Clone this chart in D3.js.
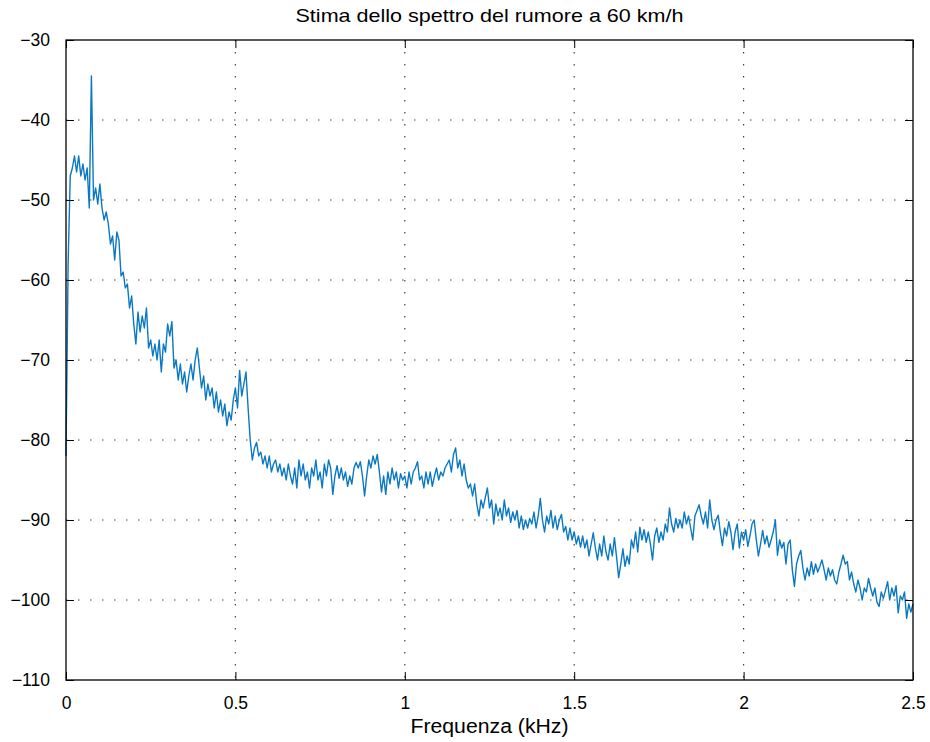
<!DOCTYPE html>
<html>
<head>
<meta charset="utf-8">
<script src="https://cdn.jsdelivr.net/npm/d3@7"></script>
<style>
  body { margin: 0; background: #fff; }
  svg text { font-family: "Liberation Sans", Arial, sans-serif; fill: #000; }
</style>
</head>
<body>
<svg id="chart" width="930" height="742"></svg>
<script>
'use strict';

const title = 'Stima dello spettro del rumore a 60 km/h';
const xLabel = 'Frequenza (kHz)';
const xTicks = [0, 0.5, 1, 1.5, 2, 2.5];
const yTicks = [-110, -100, -90, -80, -70, -60, -50, -40, -30];

// spectrum bins: first bin frequency and bin width, kHz
const binStart = 0;
const binWidth = 0.00625;

// estimated power (dB), one value per bin
const powerDb = [
  -82, -58, -47, -46, -44.5, -46.5, -44.5, -47, -45.5, -47.5,
  -46, -51, -34.5, -50, -48.5, -50.5, -48, -51, -52.5, -51.5,
  -53, -55.5, -54.5, -57.5, -54, -55, -59.5, -59, -61, -60.5,
  -63.5, -62, -65.5, -68, -64, -66.5, -64.5, -66, -63.5, -68.5,
  -67.5, -69.5, -68, -70, -67.5, -71.5, -68, -69, -65.5, -67,
  -65.2, -71, -70, -72.5, -70.5, -73, -71.5, -74, -72, -70.5,
  -72.5, -70, -68.5, -71, -73.5, -72, -75, -73, -74.5, -73.5,
  -76, -74, -76.5, -75, -77, -75.5, -78.2, -76.5, -77.5, -75,
  -73.5, -76, -71.3, -74.5, -73, -71.5, -76, -80, -82.5, -81,
  -80.3, -82, -81.5, -83, -82, -83.5, -82, -84, -83, -82.5,
  -84, -83, -84.5, -83.5, -85, -83, -84.5, -85.5, -83.5, -86,
  -82.5, -84.5, -83, -85, -84, -86, -83.5, -84.5, -82.5, -85,
  -84, -86, -83, -84.5, -82.5, -83.5, -86.8, -84.5, -83.2, -84.8,
  -83.5, -85, -84, -85.8, -84.5, -85.5, -83.5, -82.8, -83.5, -82.7,
  -84.5, -87, -84.5, -82.5, -83.5, -82, -83, -81.8, -84, -86.5,
  -84.5, -86.8, -84, -85.5, -83.5, -85, -84, -86, -84.2, -85,
  -84.5, -86, -84, -85.5, -84, -83.5, -82.7, -85, -84.5, -86,
  -84, -85.5, -84, -85.8, -84.5, -83.5, -85, -84, -84.5, -83.5,
  -83, -82.5, -84, -81.8, -81, -83.5, -82.5, -84.5, -83, -85,
  -86, -85.5, -87, -85.5, -88, -89.5, -87.5, -88.5, -87.2, -86,
  -88.5, -87.5, -90.5, -88, -89.5, -88.5, -90, -87.5, -89.5, -88.5,
  -90.3, -89, -90, -88.8, -91, -89.5, -91.2, -90, -91, -89.8,
  -90.5, -89, -91, -89.5, -87.3, -90, -91.5, -89.5, -90.5, -88.8,
  -91, -89.5, -91.2, -90, -89.3, -91.5, -90.8, -92.5, -91, -92.5,
  -91.5, -93, -92, -93.4, -92, -93.5, -92.5, -94.5, -93, -91.6,
  -93.5, -95, -93, -94.5, -92, -94, -95, -93, -94.5, -92.2,
  -94.6, -97.2, -95.5, -93.6, -95.8, -94.5, -95.5, -92.5, -93.5, -91.5,
  -94, -90.9, -92.5, -91.2, -92.8, -91.5, -93, -95, -92, -91,
  -92.8, -91.5, -92.5, -90.5, -91.5, -88.5, -90.5, -91.5, -89.8, -91,
  -90, -91, -89, -90.5, -89.5, -91, -92.5, -89.5, -88.8, -88.1,
  -89.5, -90.5, -89, -91, -87.5, -90, -91.2, -90, -89.4, -91.5,
  -93.2, -91, -92, -90.2, -91.5, -93.7, -91.5, -90.5, -93.5, -91.5,
  -92.5, -91.2, -93.3, -92, -90.5, -90, -92.5, -94.5, -93, -91.3,
  -93, -92, -93.4, -92.5, -91.5, -90, -94.4, -92.5, -93.5, -92.8,
  -95.5, -93, -92.5, -96.2, -98.3, -95.5, -94.5, -93.8, -96, -97.5,
  -96, -97, -95.2, -96.8, -95.5, -96.5, -95.8, -95, -96.2, -97.5,
  -96, -97, -96.2, -97.5, -98, -96.5, -95.5, -94.4, -95.5, -95.2,
  -97.5, -96.5, -98, -99, -97.5, -98.5, -100, -98.5, -99, -97.3,
  -98.5, -99.5, -98.5, -100.3, -100.8, -99, -99.8, -98.8, -97.7, -100,
  -98.5, -99.5, -98.2, -101.6, -99.5, -100, -99, -102.3, -100.5, -101.5,
  -100.5
];

const svg = d3.select('#chart');
const margin = { top: 40, right: 17, bottom: 62, left: 66 };
const width = +svg.attr('width') - margin.left - margin.right;
const height = +svg.attr('height') - margin.top - margin.bottom;

const x = d3.scaleLinear().domain([0, 2.5]).range([0, width]);
const y = d3.scaleLinear().domain([-110, -30]).range([height, 0]);

const g = svg.append('g')
  .attr('transform', `translate(${margin.left},${margin.top})`);

// dotted grid
const grid = g.append('g').attr('class', 'grid')
  .attr('stroke', '#444')
  .attr('stroke-width', 1.2)
  .attr('stroke-dasharray', '1.5,10.5');

grid.selectAll('line.vx')
  .data(xTicks.slice(1, -1))
  .enter().append('line')
    .attr('x1', d => x(d)).attr('x2', d => x(d))
    .attr('y1', 0).attr('y2', height);

grid.selectAll('line.hy')
  .data(yTicks.slice(1, -1))
  .enter().append('line')
    .attr('x1', 0).attr('x2', width)
    .attr('y1', d => y(d)).attr('y2', d => y(d));

// spectrum line
const points = powerDb.map((v, i) => ({ f: binStart + i * binWidth, p: v }));

const line = d3.line()
  .x(d => x(d.f))
  .y(d => y(d.p));

g.append('path')
  .datum(points)
  .attr('fill', 'none')
  .attr('stroke', '#0a78c2')
  .attr('stroke-width', 1.4)
  .attr('stroke-linejoin', 'round')
  .attr('d', line);

// axes, ticks inward, on all four sides
const tickLen = 8;
const styleAxis = function(sel) {
  sel.select('.domain').remove();
  sel.selectAll('line').attr('stroke', '#000').attr('stroke-width', 1);
  sel.selectAll('text').attr('font-size', 17.5).attr('font-family', '"Liberation Sans", Arial, sans-serif');
};

g.append('g')
  .attr('transform', `translate(0,${height})`)
  .call(d3.axisBottom(x).tickValues(xTicks).tickFormat(d3.format('')).tickSizeInner(-tickLen).tickSizeOuter(0).tickPadding(tickLen + 9))
  .call(styleAxis);

g.append('g')
  .call(d3.axisTop(x).tickValues(xTicks).tickFormat('').tickSizeInner(-tickLen).tickSizeOuter(0))
  .call(styleAxis);

g.append('g')
  .call(d3.axisLeft(y).tickValues(yTicks).tickSizeInner(-tickLen).tickSizeOuter(0).tickPadding(tickLen + 8))
  .call(styleAxis);

g.append('g')
  .attr('transform', `translate(${width},0)`)
  .call(d3.axisRight(y).tickValues(yTicks).tickFormat('').tickSizeInner(-tickLen).tickSizeOuter(0))
  .call(styleAxis);

// frame
g.append('rect')
  .attr('width', width).attr('height', height)
  .attr('fill', 'none')
  .attr('stroke', '#000')
  .attr('stroke-width', 1.3);

// title and label
svg.append('text')
  .attr('x', margin.left + width / 2)
  .attr('y', 22)
  .attr('text-anchor', 'middle')
  .attr('font-size', 18.5)
  .attr('textLength', 388)
  .attr('lengthAdjust', 'spacingAndGlyphs')
  .text(title);

svg.append('text')
  .attr('x', margin.left + width / 2)
  .attr('y', 733)
  .attr('text-anchor', 'middle')
  .attr('font-size', 19.5)
  .attr('textLength', 158)
  .attr('lengthAdjust', 'spacingAndGlyphs')
  .text(xLabel);
</script>
</body>
</html>
